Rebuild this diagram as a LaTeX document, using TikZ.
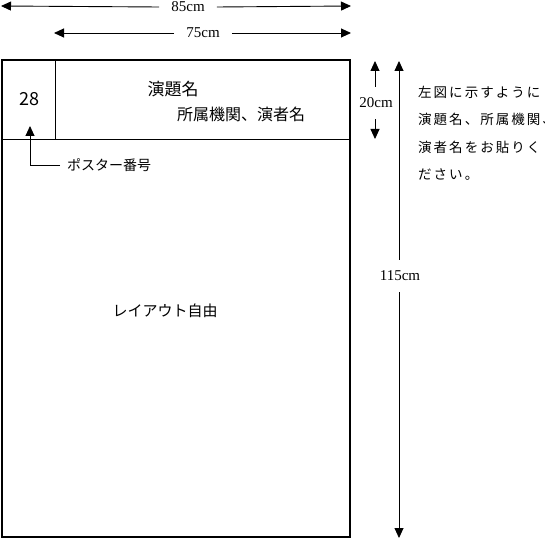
\documentclass[tikz,border=0pt]{standalone}
\usepackage{fontspec}
\setmainfont{Liberation Serif}
\newfontfamily\jp{Noto Sans CJK JP}
\newfontfamily\jpspaced[LetterSpace=15]{Noto Sans CJK JP}
\usetikzlibrary{arrows.meta,positioning}

\begin{document}
\begin{tikzpicture}[x=1pt,y=-1pt,
  dimarrow/.style={-{Triangle[length=10pt,width=9pt]},line width=0.9pt},
  hdimlabel/.style={inner xsep=12pt,inner ysep=0pt,font=\fontsize{15}{15}\selectfont},
  vdimlabel/.style={inner xsep=0pt,inner ysep=11pt,font=\fontsize{15}{15}\selectfont},
  jptext/.style={inner sep=0pt,font=\jp\fontsize{16}{16}\selectfont}]
\useasboundingbox (0,0) rectangle (545,540);
% poster frame
\draw [line width=2pt] (2,60) rectangle (350,537);
\draw [line width=0.9pt] (2,139) -- (350,139);
\draw [line width=0.9pt] (55,60) -- (55,139);
\node [inner sep=0pt,font=\jp\fontsize{18}{18}\selectfont] (num) at (29,99) {28};
\node [jptext,font=\jp\fontsize{17}{17}\selectfont] (title) at (173,89) {演題名};
\node [jptext] (author) at (241,114) {所属機関、演者名};
\node [jptext,font=\jp\fontsize{15}{15}\selectfont] (layout) at (165,311) {レイアウト自由};
% poster number
\coordinate (numtip) at (30,126);
\node [jptext,anchor=west,font=\jp\fontsize{14}{14}\selectfont] (bango) at (67,165) {ポスター番号};
\draw [dimarrow] (bango.west) ++(-7,0) -| (numtip);
% widths
\coordinate (w85l) at (1,6);
\coordinate (w85r) at (351,6);
\node [hdimlabel] (w85) at (188,7) {85cm};
\draw [dimarrow] (w85.west) -- (w85l);
\draw [dimarrow] (w85.east) -- (w85r);
\coordinate (w75l) at (54,33);
\coordinate (w75r) at (351,33);
\node [hdimlabel] (w75) at (203,33) {75cm};
\draw [dimarrow] (w75.west) -- (w75l);
\draw [dimarrow] (w75.east) -- (w75r);
% heights
\coordinate (h20t) at (375,61);
\coordinate (h20b) at (375,139);
\node [vdimlabel] (h20) at (376,103) {20cm};
\draw [dimarrow] (h20.north -| h20t) -- (h20t);
\draw [dimarrow] (h20.south -| h20b) -- (h20b);
\coordinate (h115t) at (399,61);
\coordinate (h115b) at (399,538);
\node [vdimlabel] (h115) at (400,276) {115cm};
\draw [dimarrow] (h115.north -| h115t) -- (h115t);
\draw [dimarrow] (h115.south -| h115b) -- (h115b);
% note
\node [anchor=north west,inner sep=0pt,align=left,
  font=\jpspaced\fontsize{13.5}{27.3}\selectfont] (note) at (418,86)
  {左図に示すように\\演題名、所属機関、\\演者名をお貼りく\\ださい。};
\end{tikzpicture}
\end{document}
